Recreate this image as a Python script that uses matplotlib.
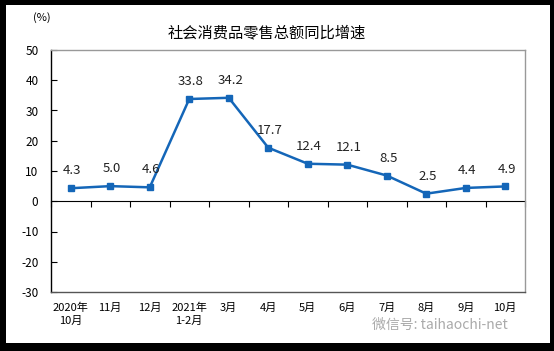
import matplotlib.pyplot as plt
from matplotlib.patches import Rectangle

plt.rcParams['font.family'] = ['Noto Sans CJK SC', 'DejaVu Sans']

# 数据
months = ['2020年\n10月', '11月', '12月', '2021年\n1-2月', '3月', '4月',
          '5月', '6月', '7月', '8月', '9月', '10月']
growth = [4.3, 5.0, 4.6, 33.8, 34.2, 17.7, 12.4, 12.1, 8.5, 2.5, 4.4, 4.9]
yticks = [50, 40, 30, 20, 10, 0, -10, -20, -30]

line_color = '#1466b8'

fig = plt.figure(figsize=(5.54, 3.51), dpi=100)
fig.patch.set_facecolor('black')
# 白色内框
fig.add_artist(Rectangle((6 / 554, 8 / 351), 544 / 554, 338 / 351,
                         transform=fig.transFigure, facecolor='white',
                         edgecolor='none', zorder=0))

ax = fig.add_axes([51 / 554, 1 - 292 / 351, 474 / 554, 242 / 351])
ax.set_facecolor('white')

x = list(range(len(growth)))
ax.plot(x, growth, color=line_color, lw=1.8, marker='s', ms=4.5, zorder=3)

for xi, v in zip(x, growth):
    ax.annotate(f'{v:.1f}', (xi, v), xytext=(1, 12.5), textcoords='offset points',
                ha='center', va='center', fontsize=9.5, color='#222222')

ax.set_xlim(-0.5, len(growth) - 0.5)
ax.set_ylim(-30, 50)
ax.set_yticks(yticks)
ax.set_yticklabels([str(t) for t in yticks], fontsize=8.5)
ax.tick_params(axis='y', direction='in', length=4, pad=9, color='black')

ax.set_xticks(x)
ax.set_xticklabels(months, fontsize=8, linespacing=1.3)
ax.tick_params(axis='x', length=0, pad=8)

for s in ['top', 'right']:
    ax.spines[s].set_color('#999999')
ax.spines['left'].set_color('black')
ax.spines['bottom'].set_color('#555555')
for s in ax.spines.values():
    s.set_linewidth(1)

# 零线及分隔刻度
sec = ax.secondary_xaxis(30 / 80)
sec.set_xticks([i - 0.5 for i in range(len(growth) + 1)])
sec.set_xticklabels([])
sec.tick_params(direction='out', length=4, color='black')
sec.spines['bottom'].set_color('black')

fig.text(0.482, 1 - 33 / 351, '社会消费品零售总额同比增速', ha='center', va='center',
         fontsize=11)
fig.text(42 / 554, 1 - 18 / 351, '(%)', ha='center', va='center', fontsize=8)

fig.text(508 / 554, 1 - 325 / 351, '微信号: taihaochi-net', ha='right', va='center',
         fontsize=10, color='#aaaaaa')

plt.savefig('out.png', dpi=100, facecolor=fig.get_facecolor())
